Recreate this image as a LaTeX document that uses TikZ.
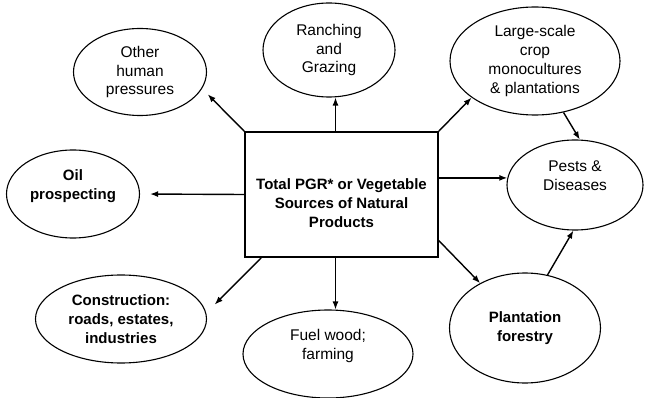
\documentclass[tikz,border=0pt]{standalone}
\usepackage{fontspec}
\setmainfont{Liberation Sans}
\usetikzlibrary{shapes.geometric,arrows.meta}
\tikzstyle{threat} = [ellipse, draw, line width=1.1pt, inner sep=0pt, align=center, font=\fontsize{15.5}{18.8}\selectfont]
\tikzstyle{mainthreat} = [threat, font=\fontsize{15}{18.8}\selectfont\bfseries]
\tikzstyle{source} = [rectangle, draw, line width=1.4pt, minimum width=193pt, minimum height=125pt]
\tikzstyle{pressure} = [-{Latex[length=8pt,width=6pt]}, line width=1.4pt]

\begin{document}
\begin{tikzpicture}[x=1pt, y=-1pt]
    \useasboundingbox (0,0) rectangle (645,398);
    % central box
    \node[source] (box) at (341.5,194.5) {};
    \node[align=center, font=\fontsize{15}{19}\selectfont\bfseries] (boxtext) at ([yshift=-9pt]box.center)
        {Total PGR* or Vegetable\\Sources of Natural\\Products};
    % surrounding pressures
    \node[threat, minimum width=133pt, minimum height=87pt] (other) at (140,72) {Other\\human\\pressures};
    \node[threat, minimum width=132pt, minimum height=94pt] (ranch) at (329,50) {Ranching\\and\\Grazing};
    \node[threat, minimum width=170pt, minimum height=108pt] (large) at (535,61) {Large-scale\\crop\\monocultures\\\& plantations};
    \node[threat, minimum width=136pt, minimum height=90pt] (pests) at (575,185) {Pests \&\\Diseases\\\mbox{}};
    \node[mainthreat, minimum width=133pt, minimum height=88pt] (oil) at (73,194) {Oil\\prospecting\\\mbox{}};
    \node[mainthreat, minimum width=171pt, minimum height=88pt] (constr) at (121,319) {Construction:\\roads, estates,\\industries};
    \node[threat, minimum width=170pt, minimum height=88pt] (fuel) at (328,354) {Fuel wood;\\farming\\\mbox{}};
    \node[mainthreat, minimum width=151pt, minimum height=110pt] (plant) at (525,328) {Plantation\\forestry};
    % arrows
    \draw[pressure, shorten >=8pt] (box.north west) -- (other.-15);
    \draw[pressure] ([xshift=-6pt]box.north) -- ([xshift=-6pt]box.north |- ranch.south);
    \draw[pressure] (box.north east) -- (large.-150);
    \draw[pressure] (large.-61) -- (pests.84);
    \draw[pressure] (box.east |- pests.174) -- (pests.174);
    \draw[pressure, shorten >=10pt] (box.west) -- (oil.east);
    \draw[pressure, shorten >=12pt] ([xshift=17pt]box.south west) -- (constr.4);
    \draw[pressure] ([xshift=-6pt]box.south) -- ([xshift=-6pt]box.south |- fuel.north);
    \draw[pressure] ([yshift=-46pt]box.east) -- (plant.135);
    \draw[pressure] (plant.67) -- (pests.-92);
\end{tikzpicture}
\end{document}
